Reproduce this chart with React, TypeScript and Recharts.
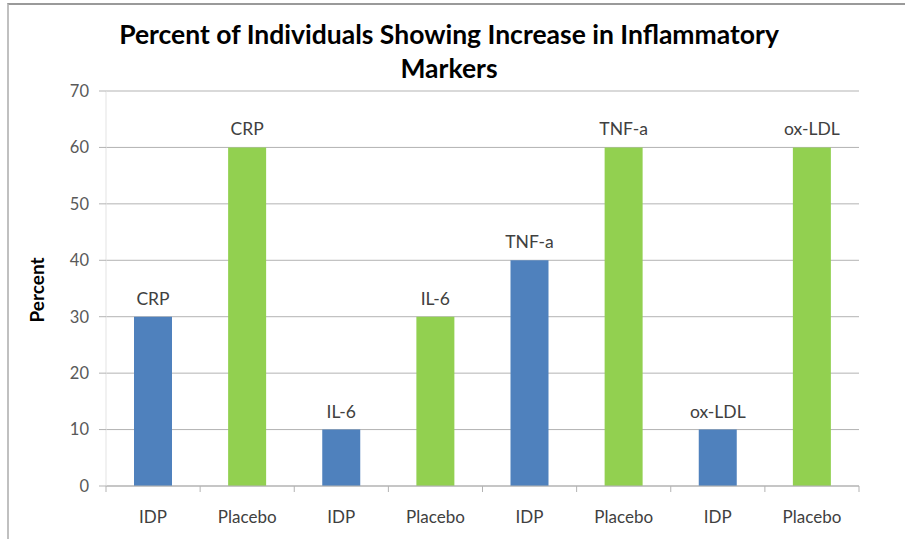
import React from "react";
import { BarChart, Bar, XAxis, YAxis, CartesianGrid, Cell, LabelList } from "recharts";

const groups = ["IDP", "Placebo", "IDP", "Placebo", "IDP", "Placebo", "IDP", "Placebo"];
const markers = ["CRP", "CRP", "IL-6", "IL-6", "TNF-a", "TNF-a", "ox-LDL", "ox-LDL"];
const percents = [30, 60, 10, 30, 40, 60, 10, 60];
const yTicks = [0, 10, 20, 30, 40, 50, 60, 70];

const BLUE = "#4f81bd";
const GREEN = "#92d050";
const GRID = "#b3b3b3";
const FONT = "Lato, 'Open Sans', sans-serif";

const W = 905;
const H = 539;
const M = { top: 91, right: 46, bottom: 13, left: 46 };
const Y_W = 60;
const PLOT_W = W - M.left - M.right - Y_W;
const BAND = PLOT_W / groups.length;

const data = groups.map((g, i) => ({
  id: i,
  group: g,
  marker: markers[i],
  value: percents[i],
}));

function XTick(props: any) {
  const { x, y, payload, index } = props;
  return (
    <g>
      {index === 0 && (
        <line x1={x - BAND / 2} x2={x - BAND / 2} y1={y} y2={y + 6} stroke={GRID} />
      )}
      <line x1={x + BAND / 2} x2={x + BAND / 2} y1={y} y2={y + 6} stroke={GRID} />
      <text x={x} y={y + 33} textAnchor="middle" dominantBaseline="middle" fontSize={17} fill="#404040" fontFamily={FONT}>
        {groups[payload.value]}
      </text>
    </g>
  );
}

export default function App() {
  return (
    <div style={{ position: "absolute", left: 0, top: 0, width: W, height: H, background: "#fff", overflow: "hidden" }}>
      <div
        style={{
          position: "absolute",
          left: 7,
          top: 3,
          width: W + 20,
          height: H + 20,
          borderTop: "2px solid #9a9a9a",
          borderLeft: "2px solid #c0c0c0",
        }}
      />
      <div
        style={{
          position: "absolute",
          left: 0,
          top: 17,
          width: 898,
          textAlign: "center",
          fontFamily: FONT,
          fontWeight: 700,
          fontSize: 26.5,
          lineHeight: "34px",
          color: "#000",
        }}
      >
        Percent of Individuals Showing Increase in Inflammatory
        <br />
        Markers
      </div>
      <div style={{ position: "absolute", left: 0, top: 0 }}>
        <BarChart width={W} height={H} data={data} margin={M} barSize={38}>
          <CartesianGrid vertical={false} stroke={GRID} />
          <XAxis
            dataKey="id"
            tick={<XTick />}
            tickLine={false}
            tickSize={0}
            tickMargin={0}
            height={40}
            interval={0}
            stroke={GRID}
          />
          <YAxis
            domain={[0, 70]}
            ticks={yTicks}
            width={Y_W}
            tickSize={7}
            tickMargin={10}
            tickLine={{ stroke: GRID }}
            axisLine={{ stroke: "#e3e3e3" }}
            tick={{ fontSize: 16.5, fill: "#595959", fontFamily: FONT }}
            label={{
              value: "Percent",
              angle: -90,
              position: "insideLeft",
              dx: -14,
              dy: 34,
              style: { fontSize: 19, fontWeight: 700, fill: "#000", fontFamily: FONT },
            }}
          />
          <Bar dataKey="value" isAnimationActive={false}>
            {data.map((d, i) => (
              <Cell key={`bar-${i}`} fill={i % 2 === 0 ? BLUE : GREEN} />
            ))}
            <LabelList dataKey="marker" position="top" offset={12} style={{ fontSize: 17.5, fill: "#404040", fontFamily: FONT }} />
          </Bar>
        </BarChart>
      </div>
    </div>
  );
}
